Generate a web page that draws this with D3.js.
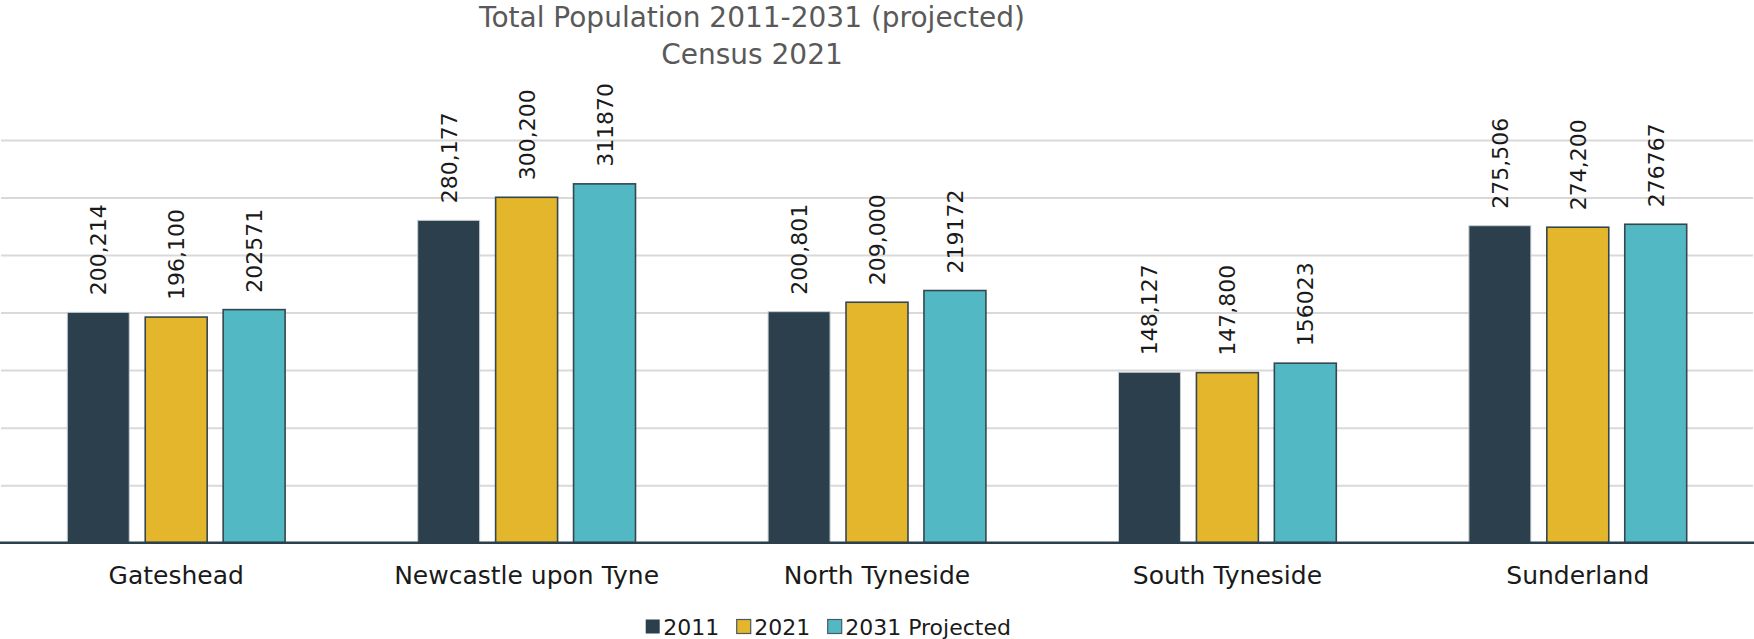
<!DOCTYPE html>
<html>
<head>
<meta charset="utf-8">
<script src="https://cdn.jsdelivr.net/npm/d3@7/dist/d3.min.js"></script>
<style>
  html, body { margin: 0; padding: 0; background: #ffffff; }
  svg { display: block; font-family: "DejaVu Sans", sans-serif; }
</style>
</head>
<body>
<svg id="chart" width="1754" height="639"></svg>
<script>
// Local authority areas
const categories = ["Gateshead", "Newcastle upon Tyne", "North Tyneside", "South Tyneside", "Sunderland"];
// Series names
const seriesNames = ["2011", "2021", "2031 Projected"];
// Population per series, in category order
const pop2011 = [200214, 280177, 200801, 148127, 275506];
const pop2021 = [196100, 300200, 209000, 147800, 274200];
const pop2031 = [202571, 311870, 219172, 156023, 276767];
// Value axis ticks (gridlines only, no labels)
const yTicks = [50000, 100000, 150000, 200000, 250000, 300000, 350000];
const titleLines = ["Total Population 2011-2031 (projected)", "Census 2021"];

const seriesValues = [pop2011, pop2021, pop2031];
const colors = ["#2b404c", "#e4b62b", "#52b8c3"];
const strokes = ["#c9ced1", "#34474f", "#34474f"];
// 2011 and 2021 labels use thousands separators, projected figures do not
const labelFormats = [d3.format(","), d3.format(","), d3.format("d")];

const svg = d3.select("#chart");
const W = 1754;
const plot = { left: 1, right: 1753, top: 140, bottom: 542.7 };

const x0 = d3.scaleBand().domain(categories).range([plot.left, plot.right]).padding(0);
const groupPad = 66.3;
const x1 = d3.scaleBand().domain(seriesNames)
  .range([groupPad, x0.bandwidth() - groupPad])
  .paddingInner(0.205).paddingOuter(0);
const y = d3.scaleLinear().domain([0, 350000]).range([plot.bottom, plot.top]);

// Title
const title = svg.append("g").attr("fill", "#595959").attr("font-size", 28).attr("text-anchor", "middle");
titleLines.forEach((t, i) => {
  title.append("text").attr("x", 752).attr("y", 27 + i * 37).text(t);
});

// Horizontal gridlines
svg.append("g")
  .attr("transform", `translate(${plot.right},0)`)
  .call(d3.axisRight(y).tickValues(yTicks).tickSize(-(plot.right - plot.left)).tickFormat(""))
  .call(g => g.select(".domain").remove())
  .call(g => g.selectAll(".tick line").attr("stroke", "#d9d9d9").attr("stroke-width", 2));

// Bars
const rows = categories.map((c, i) => ({ cat: c, vals: seriesValues.map((s, j) => ({ key: seriesNames[j], j, v: s[i] })) }));
const groups = svg.append("g").selectAll("g").data(rows).join("g")
  .attr("transform", d => `translate(${x0(d.cat)},0)`);

groups.selectAll("rect").data(d => d.vals).join("rect")
  .attr("x", d => x1(d.key))
  .attr("y", d => y(d.v))
  .attr("width", x1.bandwidth())
  .attr("height", d => y(0) - y(d.v))
  .attr("fill", d => colors[d.j])
  .attr("stroke", d => strokes[d.j])
  .attr("stroke-width", d => d.j === 0 ? 1 : 1.6);

// Value labels, rotated
groups.selectAll("text.val").data(d => d.vals).join("text")
  .attr("class", "val")
  .attr("transform", d => `translate(${x1(d.key) + x1.bandwidth() / 2 + 8},${y(d.v) - 17}) rotate(-90)`)
  .attr("font-size", 22)
  .attr("fill", "#1a1a1a")
  .text(d => labelFormats[d.j](d.v));

// Category axis
const xAxis = svg.append("g")
  .attr("transform", `translate(0,${plot.bottom})`)
  .call(d3.axisBottom(x0).tickSize(0).tickPadding(0));
xAxis.select(".domain").remove();
xAxis.selectAll(".tick text")
  .attr("y", 41.5).attr("dy", 0)
  .attr("font-size", 25)
  .attr("font-family", "DejaVu Sans, sans-serif")
  .attr("fill", "#1a1a1a");
svg.append("line")
  .attr("x1", 0).attr("x2", W)
  .attr("y1", plot.bottom).attr("y2", plot.bottom)
  .attr("stroke", "#2b404c").attr("stroke-width", 2.5);

// Legend
const legendItems = [
  { name: seriesNames[0], x: 645.7 },
  { name: seriesNames[1], x: 736.7 },
  { name: seriesNames[2], x: 827.7 }
];
const legend = svg.append("g");
legendItems.forEach((it, j) => {
  legend.append("rect")
    .attr("x", it.x).attr("y", 619.5)
    .attr("width", 14).attr("height", 14)
    .attr("fill", colors[j])
    .attr("stroke", j === 0 ? "none" : "#4a5a62").attr("stroke-width", 1.2);
  legend.append("text")
    .attr("x", it.x + 17.5).attr("y", 634.5)
    .attr("font-size", 22)
    .attr("fill", "#1a1a1a")
    .text(it.name);
});
</script>
</body>
</html>
